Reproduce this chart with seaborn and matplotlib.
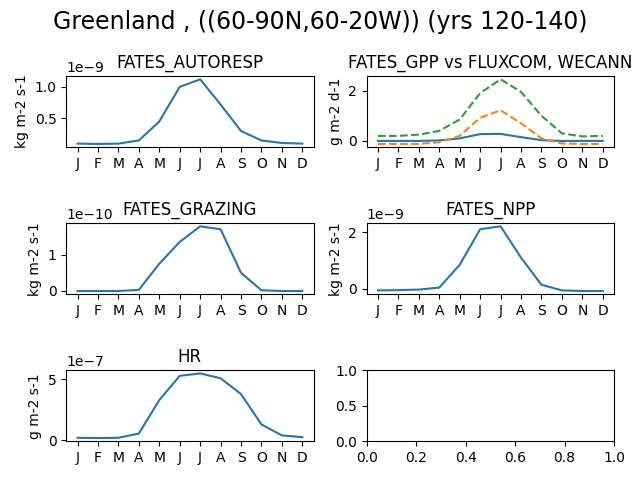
import matplotlib
matplotlib.use("Agg")
import matplotlib.pyplot as plt
import seaborn as sns
import numpy as np

months = ["J","F","M","A","M","J","J","A","S","O","N","D"]
x = list(range(12))
autoresp = [0.10,0.095,0.10,0.15,0.45,1.0,1.12,0.72,0.30,0.15,0.11,0.10]  # 1e-9
gpp_fates = [0.0,0.0,0.0,0.02,0.10,0.27,0.28,0.15,0.03,0.0,0.0,0.0]
gpp_fluxcom = [-0.12,-0.12,-0.12,-0.05,0.20,0.92,1.22,0.70,0.10,-0.10,-0.12,-0.12]
gpp_wecann = [0.20,0.20,0.25,0.40,0.85,1.90,2.45,1.95,1.00,0.30,0.18,0.20]
grazing = [0.0,0.0,0.0,0.03,0.75,1.35,1.78,1.70,0.50,0.02,0.0,0.0]  # 1e-10
npp = [-0.05,-0.04,-0.02,0.05,0.85,2.10,2.20,1.10,0.15,-0.05,-0.07,-0.07]  # 1e-9
hr = [0.20,0.18,0.20,0.55,3.30,5.30,5.50,5.10,3.80,1.30,0.40,0.25]  # 1e-7

fig, axs = plt.subplots(3, 2, figsize=(6.4, 4.8))
fig.suptitle("Greenland , ((60-90N,60-20W)) (yrs 120-140)", fontsize=17)

def panel(ax, series, title, ylabel, scale=1.0, styles=None):
    for i, s in enumerate(series):
        ls = "-" if styles is None else styles[i]
        sns.lineplot(x=x, y=np.array(s) * scale, ax=ax, color=f"C{i}", linestyle=ls)
    ax.set_title(title)
    ax.set_ylabel(ylabel)
    ax.set_xticks(x)
    ax.set_xticklabels(months)

panel(axs[0,0], [autoresp], "FATES_AUTORESP", "kg m-2 s-1", 1e-9)
panel(axs[0,1], [gpp_fates, gpp_fluxcom, gpp_wecann], "FATES_GPP vs FLUXCOM, WECANN", "g m-2 d-1", 1.0, ["-","--","--"])
panel(axs[1,0], [grazing], "FATES_GRAZING", "kg m-2 s-1", 1e-10)
panel(axs[1,1], [npp], "FATES_NPP", "kg m-2 s-1", 1e-9)
panel(axs[2,0], [hr], "HR", "g m-2 s-1", 1e-7)

fig.tight_layout()
fig.savefig("out.png", dpi=100)
